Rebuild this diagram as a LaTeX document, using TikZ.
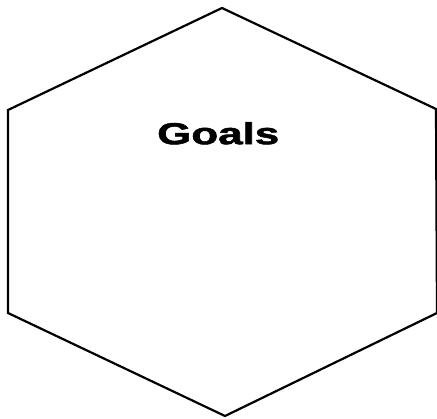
\documentclass[tikz,border=0pt]{standalone}
\usepackage{fontspec}
\setmainfont{Liberation Sans}
\newfontfamily\heavyfont[FakeBold=1.6]{Liberation Sans Bold}
\begin{document}
\begin{tikzpicture}[x=1pt,y=-1pt,
  hexline/.style={draw=black,line width=2.2pt,line join=miter},
  label/.style={inner sep=0pt}]
\useasboundingbox (0,0) rectangle (437,419);
\coordinate (t) at (222,8);
\coordinate (ur) at (436,109);
\coordinate (lr) at (437,313);
\coordinate (b) at (225,416);
\coordinate (ll) at (8,313);
\coordinate (ul) at (8,110);
\draw[hexline] (t) -- (ur) -- (lr) -- (b) -- (ll) -- (ul) -- cycle;
\node[label,anchor=north west] (goals) at (157,122) {\resizebox{122pt}{22pt}{\heavyfont Goals}};
\end{tikzpicture}
\end{document}
